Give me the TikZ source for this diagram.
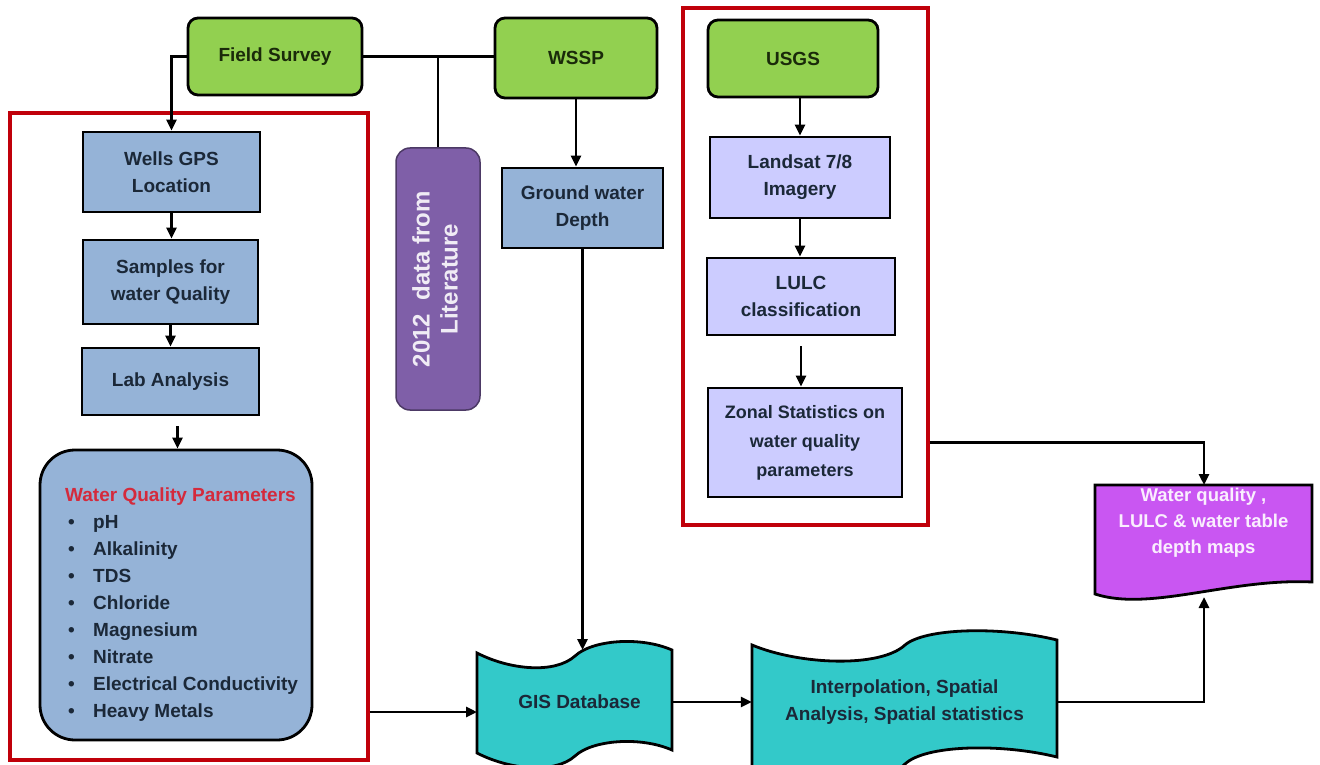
\documentclass[tikz,border=0pt]{standalone}
\usepackage{fontspec}
\setmainfont{Liberation Sans}
\usetikzlibrary{arrows.meta}
\definecolor{grn}{HTML}{92D050}
\definecolor{blu}{HTML}{95B3D7}
\definecolor{lav}{HTML}{CCCCFF}
\definecolor{pur}{HTML}{7F5FA8}
\definecolor{tea}{HTML}{33C9C9}
\definecolor{mag}{HTML}{C956F2}
\definecolor{frm}{HTML}{C0000A}
\definecolor{navy}{HTML}{1B2838}
\definecolor{ttl}{HTML}{D42A3C}
\definecolor{gtxt}{HTML}{1A2A0A}
\newcommand{\wqi}{\makebox[28pt][l]{\hspace{3pt}\textbullet}}
\tikzset{
 base/.style={draw=black, line width=2.8pt, inner sep=2pt, align=center,
   font=\fontsize{19}{27}\selectfont\bfseries, text=navy},
 src/.style={base, fill=grn, rounded corners=10pt, text=gtxt},
 bbox/.style={base, fill=blu},
 lbox/.style={base, fill=lav},
 frame/.style={draw=frm, line width=3.2pt, inner sep=0pt},
 conn/.style={line width=2.8pt, draw=black},
 arr/.style={conn, -{Triangle[length=11pt,width=10pt]}},
 tapeshape/.style={draw=black, line width=2.8pt, fill=tea},
 lbl/.style={font=\fontsize{19}{27}\selectfont\bfseries, text=navy, align=center, inner sep=0pt},
}
\begin{document}
\begin{tikzpicture}[x=1pt,y=-1pt]
\useasboundingbox (0,0) rectangle (1320,765);
\fill[white] (0,0) rectangle (1320,765);

% frames
\node[frame, minimum width=358pt, minimum height=647pt] (fleft) at (189,436.5) {};
\node[frame, minimum width=245pt, minimum height=517pt] (fright) at (805.5,266.5) {};

% custom shapes
\draw[tapeshape] (477,653) .. controls (510,670) and (555,674) .. (575,656)
  .. controls (592,640) and (640,636) .. (672,650) -- (672,750)
  .. controls (640,736) and (592,740) .. (575,756)
  .. controls (555,774) and (510,770) .. (477,753) -- cycle;
\draw[tapeshape] (752,645) .. controls (800,665) and (880,668) .. (905,645)
  .. controls (925,628) and (1000,626) .. (1057,640) -- (1057,757)
  .. controls (1000,743) and (925,745) .. (905,764)
  .. controls (880,788) and (800,786) .. (752,766) -- cycle;
\draw[draw=black, line width=2.8pt, fill=mag] (1095,485) -- (1312,485) -- (1312,582)
  .. controls (1230,578) and (1150,612) .. (1095,594) -- cycle;

% nodes
\node[src, minimum width=174pt, minimum height=77pt] (fs) at (275,56.5) {\raisebox{3pt}{Field Survey}};
\node[src, minimum width=162pt, minimum height=80pt] (wssp) at (576,58) {WSSP};
\node[src, minimum width=170pt, minimum height=77pt] (usgs) at (793,58.5) {USGS};
\node[bbox, minimum width=177pt, minimum height=80pt] (wells) at (171.5,172) {Wells GPS\\Location};
\node[bbox, minimum width=175pt, minimum height=84pt] (samples) at (170.5,282) {Samples for\\water Quality};
\node[bbox, minimum width=177pt, minimum height=67pt] (lab) at (170.5,381.5) {Lab Analysis};
\node[bbox, rounded corners=35pt, minimum width=272pt, minimum height=290pt] (wqp) at (176,595) {};
\node[anchor=north west, align=left, inner sep=0pt, font=\fontsize{19}{27}\selectfont\bfseries, text=navy] (wqtext) at (65,488)
 {\textcolor{ttl}{Water Quality Parameters}\\
  \wqi pH\\ \wqi Alkalinity\\ \wqi TDS\\ \wqi Chloride\\ \wqi Magnesium\\
  \wqi Nitrate\\ \wqi Electrical Conductivity\\ \wqi Heavy Metals};
\node[draw=pur!60!black, line width=1.5pt, fill=pur, rounded corners=14pt, minimum width=84pt, minimum height=262pt,
  inner sep=0pt, font=\fontsize{24}{28}\selectfont\bfseries, text=white!88!pur] (lit) at (438,279)
  {\rotatebox{90}{\begin{tabular}{@{}c@{}}2012\ \ data from\\Literature\end{tabular}}};
\node[bbox, minimum width=161pt, minimum height=80pt] (gw) at (582.5,208) {Ground water\\Depth};
\node[lbox, minimum width=180pt, minimum height=81pt] (land) at (800,177.5) {Landsat 7/8\\Imagery};
\node[lbox, minimum width=188pt, minimum height=77pt] (lulc) at (801,296.5) {LULC\\classification};
\node[lbox, minimum width=194pt, minimum height=109pt, font=\fontsize{18}{29}\selectfont\bfseries] (zonal) at (805,442.5)
  {Zonal Statistics on\\water quality\\parameters};
\node[lbl, minimum width=195pt, minimum height=96pt] (gis) at (574.5,702) {\hspace{10pt}GIS Database};
\node[lbl, minimum width=305pt, minimum height=100pt] (interp) at (904.5,702) {Interpolation, Spatial\\Analysis, Spatial statistics};
\node[lbl, font=\fontsize{18.5}{26}\selectfont\bfseries, text=white!90!mag] (outtxt) at (1203.5,523)
  {Water quality ,\\LULC \& water table\\depth maps};
\coordinate (gistop) at (582.5,650);
\coordinate (gisin) at (477,712);
\coordinate (outtop) at (1204,485);
\coordinate (outbot) at (1204,597);

% connectors
\draw[arr] (fs.west) -| (wells.north);
\draw[conn] (fs.east) -- (fs.east -| wssp.west);
\draw[conn] (fs.east -| lit.north) -- (lit.north);
\draw[arr] (wssp.south) -- (wssp.south |- gw.north);
\draw[arr] (gw.south) -- (gw.south |- gistop);
\draw[arr] (wells.south) -- (wells.south |- samples.north);
\draw[arr] (samples.south) -- (samples.south |- lab.north);
\draw[arr] ([xshift=7pt,yshift=-10pt]lab.south) -- ([xshift=7pt]lab.south |- wqp.north);
\draw[arr] (usgs.south -| land.north) -- (land.north);
\draw[arr] (land.south) -- (land.south |- lulc.north);
\draw[arr] ([yshift=-10pt]lulc.south) -- (lulc.south |- zonal.north);
\draw[arr] (fleft.east |- gisin) -- (gisin);
\draw[arr] (gis.east) -- (interp.west);
\draw[arr] (interp.east) -| (outbot);
\draw[arr] (fright.east |- zonal) -| (outtop);
\end{tikzpicture}
\end{document}
